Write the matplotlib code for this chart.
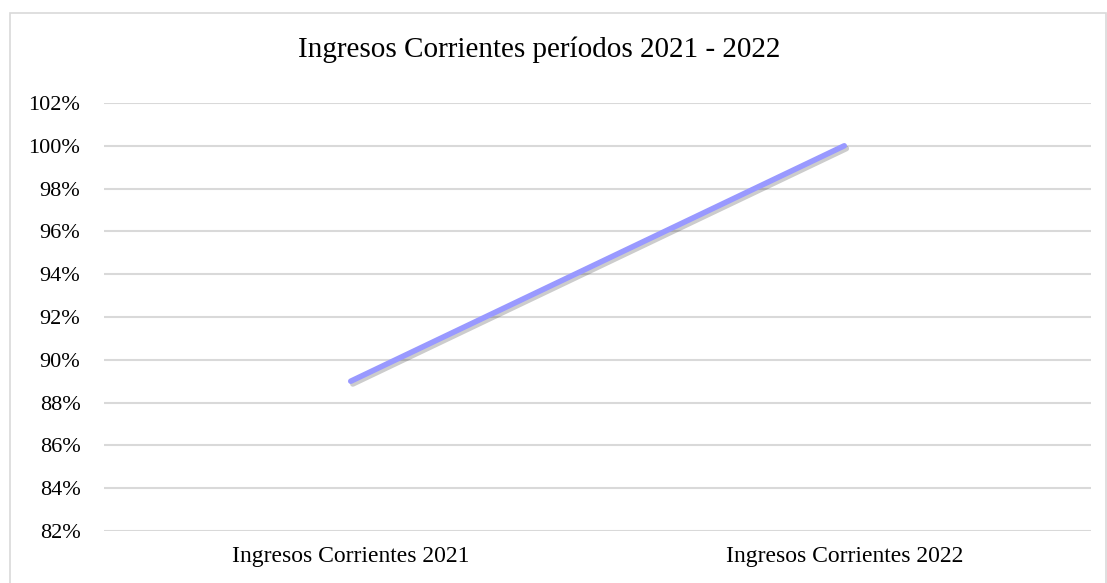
import matplotlib.pyplot as plt
import matplotlib.patheffects as pe
from matplotlib.ticker import PercentFormatter

categories = ["Ingresos Corrientes 2021", "Ingresos Corrientes 2022"]
values = [0.89, 1.00]
yticks = [0.82, 0.84, 0.86, 0.88, 0.90, 0.92, 0.94, 0.96, 0.98, 1.00, 1.02]

plt.rcParams["font.family"] = ["Liberation Serif", "DejaVu Serif"]

W, H = 1107, 583
fig = plt.figure(figsize=(W / 100, H / 100), dpi=100)
ax = fig.add_axes([104 / W, 1 - 531 / H, (1091 - 104) / W, (531 - 103) / H])

# chart frame
fig.patches.append(
    plt.Rectangle((10 / W, -0.1), (1106 - 10) / W, 1.1 - 13 / H,
                  transform=fig.transFigure, fill=False,
                  edgecolor="#d9d9d9", linewidth=1.2)
)

ax.plot(
    range(len(categories)), values,
    color="#9999ff", linewidth=4, solid_capstyle="round",
    path_effects=[pe.SimpleLineShadow(offset=(1.5, -2), shadow_color="black", alpha=0.2),
                  pe.Normal()],
    zorder=3,
)

ax.set_xlim(-0.5, len(categories) - 0.5)
ax.set_ylim(yticks[0], yticks[-1])
ax.set_yticks(yticks)
ax.yaxis.set_major_formatter(PercentFormatter(1.0, decimals=0))
ax.set_xticks(range(len(categories)))
ax.set_xticklabels(categories)

ax.grid(axis="y", color="#d9d9d9", linewidth=1.5)
ax.set_axisbelow(True)
for s in ax.spines.values():
    s.set_visible(False)
ax.tick_params(axis="both", length=0, colors="black")
ax.tick_params(axis="y", pad=17, labelsize=16)
ax.tick_params(axis="x", pad=11, labelsize=17)

fig.text(539 / W, 1 - 50 / H, "Ingresos Corrientes períodos 2021 - 2022",
         ha="center", va="center", fontsize=21)

fig.savefig("out.png", dpi=100)
